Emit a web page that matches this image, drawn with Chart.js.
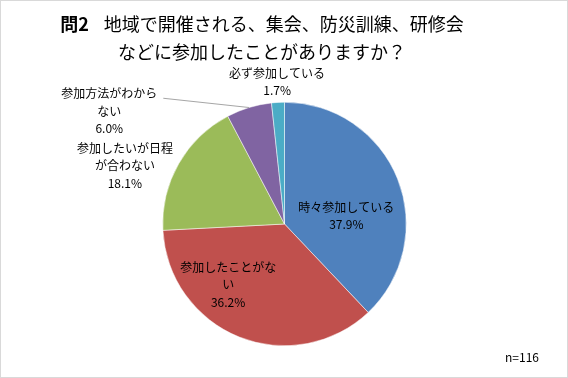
<!DOCTYPE html>
<html>
<head>
<meta charset="utf-8">
<script src="https://cdn.jsdelivr.net/npm/chart.js@4/dist/chart.umd.min.js"></script>
<style>
  html, body { margin: 0; padding: 0; background: #fff; }
  #wrap { width: 568px; height: 378px; position: relative; }
</style>
</head>
<body>
<div id="wrap"><canvas id="chart"></canvas></div>
<script>
// ---------------- Data ----------------
const categories = ['時々参加している', '参加したことがない', '参加したいが日程が合わない', '参加方法がわからない', '必ず参加している'];
const percentages = [37.9, 36.2, 18.1, 6.0, 1.7];
const sliceColors = ['#4F81BD', '#C0504D', '#9BBB59', '#8064A2', '#4BACC6'];
const labelLines = [['時々参加している'], ['参加したことがな', 'い'], ['参加したいが日程', 'が合わない'], ['参加方法がわから', 'ない'], ['必ず参加している']];
const titleHead = '問2';
const titleLines = ['地域で開催される、集会、防災訓練、研修会', 'などに参加したことがありますか？'];
const noteText = 'n=116';

// label block centres, relative to pie centre in radius units
const labelPos = [[0.508, -0.066], [-0.463, 0.5], [-1.311, -0.48], [-1.439, -0.926], [-0.061, -1.168]];
const leaderFor = [3]; // slices with a leader line

const FONT = '"Noto Sans CJK JP", "Noto Sans", sans-serif';

// ---------------- Labels plugin ----------------
const decorPlugin = {
    id: 'decor',
    beforeDraw(chart){
        const ctx = chart.ctx;
        ctx.save();
        ctx.fillStyle = '#fff';
        ctx.fillRect(0, 0, chart.width, chart.height);
        ctx.restore();
    },
    afterDraw(chart){
        const ctx = chart.ctx;
        const arcs = chart.getDatasetMeta(0).data;
        const cx = arcs[0].x, cy = arcs[0].y, r = arcs[0].outerRadius;
        ctx.save();

        // border
        ctx.strokeStyle = '#d9d9d9';
        ctx.lineWidth = 1;
        ctx.strokeRect(0.5, 0.5, chart.width - 1, chart.height - 1);

        // title
        ctx.fillStyle = '#000';
        ctx.textBaseline = 'middle';
        ctx.font = 'bold 18px ' + FONT;
        const headW = ctx.measureText(titleHead).width;
        ctx.font = '18px ' + FONT;
        const gap = 15;
        const l1W = ctx.measureText(titleLines[0]).width;
        const tcx = 262;
        let x0 = tcx - (headW + gap + l1W) / 2;
        ctx.textAlign = 'left';
        ctx.font = 'bold 18px ' + FONT;
        ctx.fillText(titleHead, x0, 24);
        ctx.font = '18px ' + FONT;
        ctx.fillText(titleLines[0], x0 + headW + gap, 24);
        ctx.textAlign = 'center';
        ctx.fillText(titleLines[1], tcx, 52);

        // leader lines
        ctx.strokeStyle = '#a6a6a6';
        ctx.lineWidth = 1;
        leaderFor.forEach(i=>{
            const a = arcs[i];
            const mid = (a.startAngle + a.endAngle) / 2;
            ctx.beginPath();
            ctx.moveTo(cx + r * Math.cos(mid), cy + r * Math.sin(mid));
            ctx.lineTo(cx + labelPos[i][0] * r + 54, cy + labelPos[i][1] * r - 13);
            ctx.stroke();
        });

        // slice labels
        ctx.font = '12px ' + FONT;
        ctx.textAlign = 'center';
        ctx.fillStyle = '#000';
        const lh = 17.5;
        percentages.forEach((p,i)=>{
            const lines = labelLines[i].concat([p.toFixed(1) + '%']);
            const bx = cx + labelPos[i][0] * r;
            const by = cy + labelPos[i][1] * r;
            const top = by - (lines.length - 1) * lh / 2;
            lines.forEach((t,j)=> ctx.fillText(t, bx, top + j * lh));
        });

        // n
        ctx.fillText(noteText, 522, 357);
        ctx.restore();
    }
};

// ---------------- Chart ----------------
new Chart(document.getElementById('chart'), {
    type: 'pie',
    data: {
        labels: categories,
        datasets: [{
            data: percentages,
            backgroundColor: sliceColors,
            borderColor: '#ffffff',
            borderWidth: 0.5
        }]
    },
    options: {
        responsive: true,
        maintainAspectRatio: false,
        animation: false,
        layout: { padding: { top: 102, bottom: 32, left: 1, right: 0 } },
        plugins: {
            legend: { display: false },
            tooltip: { enabled: false },
            title: { display: false }
        }
    },
    plugins: [decorPlugin]
});
</script>
</body>
</html>
